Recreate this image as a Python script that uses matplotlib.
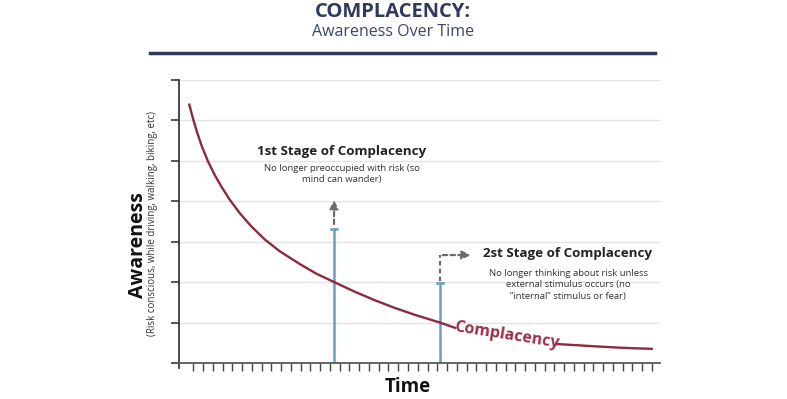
import numpy as np
import matplotlib
matplotlib.use("Agg")
import matplotlib.pyplot as plt

plt.rcParams['font.family'] = ['Open Sans', 'DejaVu Sans']

# ---- data ----
curve_x = [-0.41, 0.0, 0.45, 0.86, 1.48, 2.22, 2.91, 3.76, 4.78, 5.98, 7.35, 8.88,
           10.9, 12.6, 14.45, 16.57, 18.62, 20.67, 22.72, 25.28, 26.82,
           30.0, 34.0, 37.23, 41.33, 44.0, 46.97]
curve_y = [6.39, 6.02, 5.66, 5.37, 5.00, 4.64, 4.35, 4.03, 3.70, 3.37, 3.05, 2.76,
           2.45, 2.21, 2.00, 1.76, 1.55, 1.36, 1.19, 1.00, 0.87,
           0.69, 0.55, 0.47, 0.41, 0.375, 0.35]
gap = (26.9, 37.1)  # curve hidden behind the "Complacency" label

stage_x = [14.42, 25.28]
stage_top = [3.32, 1.97]
stage_titles = ["1st Stage of Complacency", "2st Stage of Complacency"]
stage_notes = ["No longer preoccupied with risk (so\nmind can wander)",
               "No longer thinking about risk unless\nexternal stimulus occurs (no\n\u201cinternal\u201d stimulus or fear)"]
n_time_ticks = 48
y_ticks = list(range(0, 8))

# ---- colours ----
navy = "#2f3a5e"
curve_col = "#8e2a3e"
label_col = "#9b2f47"
blue = "#6a9fc0"
arrow_col = "#6b6b6b"
grid_col = "#e3e3e3"
axis_col = "#3a3a3a"

fig = plt.figure(figsize=(7.87, 3.99), dpi=100)
fig.patch.set_facecolor("white")

W, H = 787, 399
ax = fig.add_axes([173 / W, (H - 363) / H, (660 - 173) / W, (363 - 80) / H])
ax.set_xlim(-2.08, 47.82)
ax.set_ylim(0, 7)

# grid
for yv in y_ticks[1:]:
    ax.plot([-1.46, 47.82], [yv, yv], color=grid_col, lw=1.0, zorder=0)

# spines
for s in ["top", "right"]:
    ax.spines[s].set_visible(False)
ax.spines["left"].set_position(("data", -1.46))
ax.spines["left"].set_color(axis_col)
ax.spines["left"].set_bounds(-0.12, 7)
ax.spines["left"].set_linewidth(1.3)
ax.spines["bottom"].set_color("#555a60")
ax.spines["bottom"].set_linewidth(1.3)

ax.set_yticks(y_ticks)
ax.set_yticklabels([])
ax.tick_params(axis="y", direction="out", length=6, width=1.2, color=axis_col)
ax.set_xticks(np.arange(n_time_ticks))
ax.set_xticklabels([])
ax.tick_params(axis="x", direction="out", length=6, width=1.0, color="#444444")

# curve with gap for label
cx = np.array(curve_x)
cy = np.array(curve_y, dtype=float)
ax.plot(cx[cx <= gap[0]], cy[cx <= gap[0]], color=curve_col, lw=1.7, zorder=3,
        solid_joinstyle="round", antialiased=True)
ax.plot(cx[cx >= gap[1]], cy[cx >= gap[1]], color=curve_col, lw=1.7, zorder=3,
        solid_joinstyle="round", antialiased=True)

ax.text(32.1, 0.69, "Complacency", color=label_col, fontsize=11.5, fontweight="bold",
        rotation=-9, ha="center", va="center", zorder=4)

# stage bars
for xv, top in zip(stage_x, stage_top):
    ax.plot([xv, xv], [0, top], color=blue, lw=1.8, zorder=2)
    ax.plot([xv - 0.35, xv + 0.35], [top, top], color=blue, lw=1.8, zorder=2)

# arrows
ax.annotate("", xy=(stage_x[0], 4.10), xytext=(stage_x[0], stage_top[0] + 0.05),
            arrowprops=dict(arrowstyle="-|>,head_length=0.5,head_width=0.25",
                            color=arrow_col, lw=1.6, linestyle=(0, (2, 1.5))))
ax.plot([stage_x[1], stage_x[1]], [stage_top[1] + 0.05, 2.67], color=arrow_col, lw=1.6,
        linestyle=(0, (2, 1.5)))
ax.annotate("", xy=(28.7, 2.67), xytext=(stage_x[1], 2.67),
            arrowprops=dict(arrowstyle="-|>,head_length=0.5,head_width=0.25",
                            color=arrow_col, lw=1.6, linestyle=(0, (2, 1.5))))

# stage texts
ax.text(15.2, 5.23, stage_titles[0], ha="center", va="center", fontsize=9.6,
        fontweight="bold", color="#222222")
ax.text(15.2, 4.67, stage_notes[0], ha="center", va="center", fontsize=6.8,
        color="#333333", linespacing=1.35)
ax.text(38.34, 2.70, stage_titles[1], ha="center", va="center", fontsize=9.6,
        fontweight="bold", color="#222222")
ax.text(38.4, 1.94, stage_notes[1], ha="center", va="center", fontsize=6.8,
        color="#333333", linespacing=1.35)

# titles
fig.text(0.4998, 1 - 12 / H, "COMPLACENCY:", ha="center", va="center", fontsize=14.5,
         fontweight="bold", color=navy)
fig.text(0.4998, 1 - 32 / H, "Awareness Over Time", ha="center", va="center", fontsize=11.5,
         color="#3d4763")
fig.add_artist(plt.Line2D([150 / W, 655 / W], [1 - 53 / H, 1 - 53 / H], color=navy, lw=2.5))

# axis labels
fig.text(138 / W, 1 - 245 / H, "Awareness", rotation=90, ha="center", va="center",
         fontsize=14, fontweight="bold", color="#111111")
fig.text(153 / W, 1 - 224 / H, "(Risk conscious, while driving, walking, biking, etc)",
         rotation=90, ha="center", va="center", fontsize=7, color="#333333")
fig.text(408 / W, 1 - 387 / H, "Time", ha="center", va="center", fontsize=13.5,
         fontweight="bold", color="#111111")

fig.savefig("out.png", dpi=100, facecolor="white")
